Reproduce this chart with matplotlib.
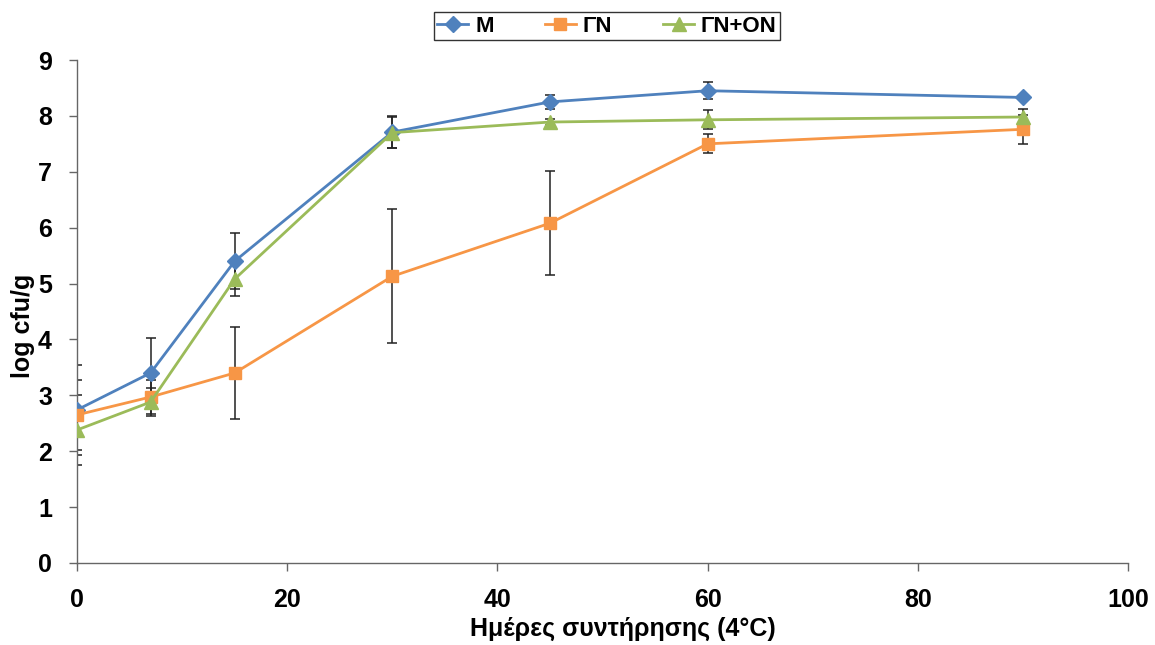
import matplotlib
matplotlib.use("Agg")
import matplotlib.pyplot as plt

plt.rcParams['font.family'] = ['Liberation Sans', 'DejaVu Sans']
plt.rcParams['font.weight'] = 'bold'

days = [0, 7, 15, 30, 45, 60, 90]

m_vals = [2.74, 3.40, 5.40, 7.71, 8.25, 8.45, 8.33]
m_err = [0.80, 0.63, 0.50, 0.28, 0.13, 0.15, 0.05]

gn_vals = [2.65, 2.97, 3.40, 5.13, 6.08, 7.50, 7.76]
gn_err = [0.63, 0.30, 0.82, 1.20, 0.93, 0.17, 0.26]

gnon_vals = [2.38, 2.88, 5.08, 7.70, 7.89, 7.93, 7.98]
gnon_err = [0.62, 0.25, 0.30, 0.28, 0.05, 0.17, 0.14]

labels = ['M', 'ΓΝ', 'ΓΝ+ΟΝ']
colors = ['#4F81BD', '#F79646', '#9BBB59']
markers = ['D', 's', '^']
msizes = [8, 9, 9.5]

fig = plt.figure(figsize=(11.55, 6.45), dpi=100)
ax = fig.add_axes([77/1155, 1-563/645, (1128-77)/1155, (563-60)/645])

series = [(m_vals, m_err), (gn_vals, gn_err), (gnon_vals, gnon_err)]
for (vals, err), lab, c, mk, ms in zip(series, labels, colors, markers, msizes):
    ax.errorbar(days, vals, yerr=err, fmt='none', ecolor='#222222',
                elinewidth=1.1, capsize=3.5, capthick=1.1, zorder=2)
    ax.plot(days, vals, color=c, marker=mk, markersize=ms, linewidth=2,
            label=lab, zorder=3)

ax.set_xlim(0, 100)
ax.set_ylim(0, 9)
ax.set_xticks(range(0, 101, 20))
ax.set_yticks(range(0, 10))
ax.tick_params(labelsize=18, length=6, width=1, color='#666666')
ax.tick_params(axis='x', pad=12)
ax.tick_params(axis='y', pad=12)
for s in ['top', 'right']:
    ax.spines[s].set_visible(False)
for s in ['left', 'bottom']:
    ax.spines[s].set_color('#666666')
    ax.spines[s].set_linewidth(1)

ax.set_xlabel('Ημέρες συντήρησης (4\u00b0C)', fontsize=18, fontweight='bold')
ax.set_ylabel('log cfu/g', fontsize=18, fontweight='bold')
ax.xaxis.set_label_coords(0.5195, -0.107)
ax.yaxis.set_label_coords(-0.040, 0.471)

leg = fig.legend(loc='center', bbox_to_anchor=(607/1155, 1-26/645), ncol=3,
                 fontsize=16, frameon=True, fancybox=False, edgecolor='black',
                 handlelength=1.4, handletextpad=0.3, columnspacing=2.3,
                 borderpad=0.15, borderaxespad=0)
leg.get_frame().set_linewidth(1)

fig.savefig('out.png', dpi=100)
